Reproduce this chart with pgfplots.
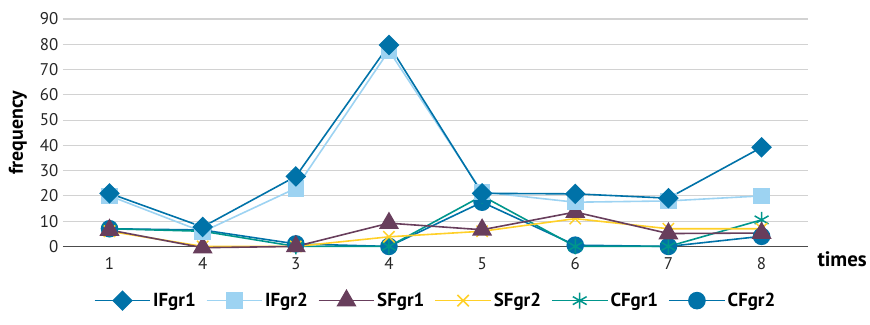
\documentclass[border=0pt]{standalone}
\usepackage{pgfplots}
\pgfplotsset{compat=1.18}
\usepackage{fontspec}
\setmainfont{PT Sans}
\definecolor{cIF}{RGB}{0,114,168}
\definecolor{cIFb}{RGB}{157,211,242}
\definecolor{cSF}{RGB}{104,62,92}
\definecolor{cSFb}{RGB}{255,208,40}
\definecolor{cCF}{RGB}{0,150,140}
\definecolor{cCFb}{RGB}{0,114,168}
\definecolor{gridc}{RGB}{210,210,210}
\begin{document}
\begin{tikzpicture}
\begin{axis}[
  name=ax,
  scale only axis,
  width=746bp, height=227.7bp,
  xmin=-0.5, xmax=7.5, ymin=0, ymax=90,
  clip=false,
  xtick={0,...,7},
  xticklabels={1,4,3,4,5,6,7,8},
  ytick={0,10,...,90},
  ymajorgrids, grid style={gridc, line width=1.1bp},
  axis x line*=bottom, axis y line*=left,
  x axis line style={-, line width=0.9bp, color=black!70},
  y axis line style={draw=none},
  major tick length=0pt,
  xticklabel style={yshift=-8bp},
  yticklabel style={xshift=-1bp},
  tick label style={font=\fontsize{17}{19}\selectfont, text=black!85},
  /pgf/number format/assume math mode=true,
  ylabel={\textbf{frequency}},
  ylabel style={font=\fontsize{20}{22}\selectfont, at={(rel axis cs:0,0.5)}, anchor=center, yshift=45bp},
  every axis plot/.append style={line width=1.6bp},
  reverse legend,
  legend columns=6,
  legend style={draw=none, at={(0.5,0)}, anchor=center, yshift=-54bp,
    font=\fontsize{19}{21}\selectfont\bfseries,
    /tikz/every even column/.append style={column sep=8bp}},
  legend image code/.code={
    \draw[mark repeat=2, mark phase=2] plot coordinates {(0bp,0bp) (28bp,0bp) (56bp,0bp)};
  },
]
\addplot[cCFb, mark=*, mark size=8bp, mark options={solid, fill=cCFb}] coordinates {
(0,7) (1,6.5) (2,1) (3,0) (4,17.5) (5,0.5) (6,0) (7,4)};
\addlegendentry{CFgr2}
\addplot[cCF, mark=asterisk, mark size=8bp, mark options={solid, line width=1.5bp}] coordinates {
(0,7) (1,6) (2,0) (3,0) (4,20) (5,0) (6,0) (7,10.5)};
\addlegendentry{CFgr1}
\addplot[cSFb, mark=x, mark size=8bp, mark options={solid, line width=1.5bp}] coordinates {
(0,6) (1,0) (2,0) (3,3.8) (4,6) (5,11) (6,7) (7,7)};
\addlegendentry{SFgr2}
\addplot[cSF, mark=triangle*, mark size=10bp, mark options={solid, fill=cSF}] coordinates {
(0,6.5) (1,-0.5) (2,0) (3,9.2) (4,6.6) (5,13.6) (6,5.1) (7,5.3)};
\addlegendentry{SFgr1}
\addplot[cIFb, mark=square*, mark size=7.5bp, mark options={solid, fill=cIFb, rounded corners=2.5bp}] coordinates {
(0,20) (1,5.8) (2,23) (3,77.5) (4,21.5) (5,17.5) (6,18) (7,20)};
\addlegendentry{IFgr2}
\addplot[cIF, mark=square*, mark size=6.5bp, mark options={solid, fill=cIF, rounded corners=2bp, rotate=45}] coordinates {
(0,21) (1,7.7) (2,27.7) (3,79.7) (4,21) (5,20.8) (6,19.1) (7,39.2)};
\addlegendentry{IFgr1}
\node[font=\fontsize{21}{23}\selectfont\bfseries, anchor=center] at ([xshift=34bp, yshift=-13bp]rel axis cs:1,0) {times};
\end{axis}
\path ([xshift=-63bp, yshift=-78.3bp]ax.south west) rectangle ([xshift=61bp, yshift=19bp]ax.north east);
\end{tikzpicture}
\end{document}
